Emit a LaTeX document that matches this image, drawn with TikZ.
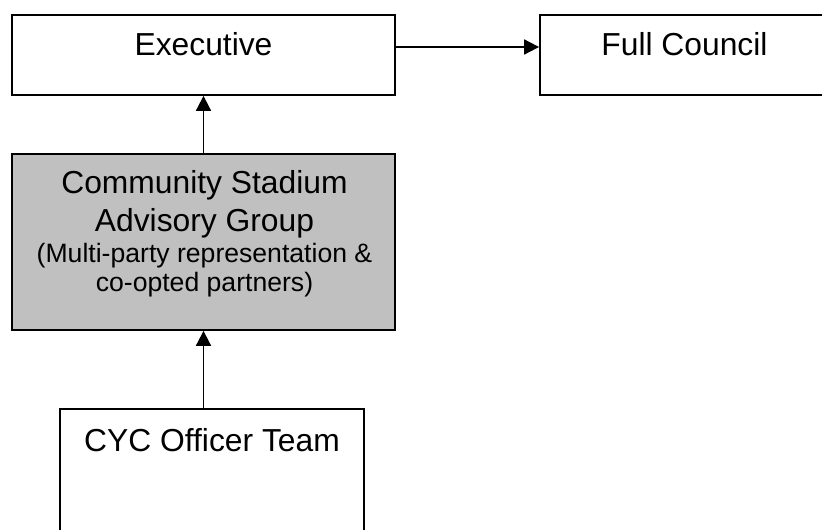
\documentclass[tikz,border=0pt]{standalone}
\usepackage{fontspec}
\setmainfont{Liberation Sans}
\usetikzlibrary{arrows.meta}
\definecolor{boxgray}{RGB}{192,192,192}
\tikzset{
  orgbox/.style={draw=black, line width=1.8pt, rectangle, inner sep=0pt, fill=white},
  bigtxt/.style={anchor=base, inner sep=0pt, font=\fontsize{31.8}{36}\selectfont},
  smalltxt/.style={anchor=base, inner sep=0pt, font=\fontsize{26.6}{30}\selectfont},
  conn/.style={line width=1.8pt, -{Triangle[length=15pt,width=15pt]}}
}
\begin{document}
\begin{tikzpicture}[x=1pt,y=-1pt]
\useasboundingbox (0,0) rectangle (822,530);
\clip (0,0) rectangle (822,530);
\node[orgbox, minimum width=383pt, minimum height=80pt] (exec) at (203.5,55) {};
\node[orgbox, minimum width=289pt, minimum height=80pt] (full) at (684.5,55) {};
\node[orgbox, fill=boxgray, minimum width=383pt, minimum height=176pt] (csag) at (203.5,242) {};
\node[orgbox, minimum width=304pt, minimum height=151pt] (cyc) at (212,484.5) {};

\node[bigtxt] (t1) at (203.5,55) {Executive};
\node[bigtxt] (t2) at (684.5,55) {Full Council};
\node[bigtxt] (g1) at (204.5,193) {Community Stadium};
\node[bigtxt] (g2) at (204.5,231) {Advisory Group};
\node[smalltxt] (g3) at (204.5,262) {(Multi-party representation \&};
\node[smalltxt] (g4) at (204.5,291) {co-opted partners)};
\node[bigtxt] (t3) at (212,451) {CYC Officer Team};

\draw[conn] ([yshift=8pt]exec.east) -- ([yshift=8pt]full.west);
\draw[conn] (csag.north) -- (exec.south);
\draw[conn] (csag.south |- cyc.north) -- (csag.south);
\end{tikzpicture}
\end{document}
